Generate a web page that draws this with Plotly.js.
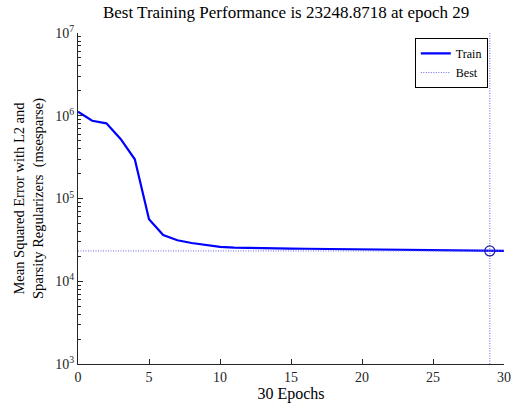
<!DOCTYPE html>
<html>
<head>
<meta charset="utf-8">
<script src="https://cdn.plot.ly/plotly-3.0.1.min.js"></script>
<style>html,body{margin:0;padding:0;background:#fff;}#chart{width:511px;height:405px;}</style>
</head>
<body>
<div id="chart"></div>
<script>
const epochs = [0,1,2,3,4,5,6,7,8,9,10,11,12,13,14,15,16,17,18,19,20,21,22,23,24,25,26,27,28,29,30];
const trainPerf = [1120000,870000,810000,524000,298000,56000,36200,31300,29000,27200,26000,25500,25200,25000,24900,24800,24700,24600,24500,24400,24300,24200,24050,23900,23800,23700,23600,23450,23350,23248.8718,23260];
const bestEpoch = 29;
const bestPerf = 23248.8718;
const xRange = [0, 30];
const yRange = [1e3, 1e7];
const xTicks = [0,5,10,15,20,25,30];
const yMajorTicks = [1e3,1e4,1e5,1e6,1e7];
const yMajorLabels = ['10<sup>3</sup>','10<sup>4</sup>','10<sup>5</sup>','10<sup>6</sup>','10<sup>7</sup>'];
const yMinorTicks = [2e3,3e3,4e3,5e3,6e3,7e3,8e3,9e3,2e4,3e4,4e4,5e4,6e4,7e4,8e4,9e4,2e5,3e5,4e5,5e5,6e5,7e5,8e5,9e5,2e6,3e6,4e6,5e6,6e6,7e6,8e6,9e6];

const serif = "Liberation Serif";

const traces = [
  {x: epochs, y: trainPerf, type: 'scatter', mode: 'lines', name: 'Train',
   line: {color: '#0000ff', width: 2.2}},
  {x: xRange, y: [bestPerf, bestPerf], type: 'scatter', mode: 'lines', name: 'Best',
   line: {color: '#6666ee', width: 1, dash: '1px,1.5px'}},
  {x: [bestEpoch, bestEpoch], y: yRange, type: 'scatter', mode: 'lines', name: 'Best',
   showlegend: false, line: {color: '#6666ee', width: 1, dash: '1px,1.5px'}},
  {x: [bestEpoch], y: [bestPerf], type: 'scatter', mode: 'markers', showlegend: false,
   marker: {symbol: 'circle-open', size: 10, color: '#1a1aaa', line: {width: 1.2, color: '#1a1aaa'}}},
  {x: epochs, y: trainPerf, yaxis: 'y2', type: 'scatter', mode: 'lines', showlegend: false,
   hoverinfo: 'skip', opacity: 0, line: {width: 0}}
];

const layout = {
  width: 511, height: 405,
  margin: {l: 78, r: 7, t: 33, b: 41},
  paper_bgcolor: '#fff', plot_bgcolor: '#fff',
  font: {family: serif, size: 12, color: '#262626'},
  title: {text: 'Best Training Performance is 23248.8718 at epoch 29',
          font: {family: serif, size: 17, color: '#000'}, x: 0.56, xanchor: 'center', y: 0.97, yanchor: 'middle'},
  showlegend: true,
  legend: {x: 0.962, xanchor: 'right', y: 0.985, yanchor: 'top',
           bgcolor: '#fff', bordercolor: '#000', borderwidth: 1,
           font: {family: serif, size: 12, color: '#000'},
           tracegroupgap: 0, itemwidth: 30},
  xaxis: {range: xRange, tickvals: xTicks, ticks: 'inside', ticklen: 5, tickcolor: '#262626',
          showline: true, linecolor: '#262626', linewidth: 1, showgrid: false, zeroline: false,
          ticklabeloverflow: 'allow',
          tickfont: {family: serif, size: 14, color: '#262626'},
          title: {text: '30 Epochs', font: {family: serif, size: 16, color: '#000'}, standoff: 4}},
  yaxis: {type: 'log', range: [3, 7], tickvals: yMajorTicks, ticktext: yMajorLabels, ticks: 'inside', ticklen: 5,
          tickcolor: '#262626', tickwidth: 1, showline: true, linecolor: '#262626', linewidth: 1,
          showgrid: false, zeroline: false,
          tickfont: {family: serif, size: 14, color: '#262626'},
          title: {text: 'Mean Squared Error with L2 and<br>Sparsity Regularizers  (msesparse)',
                  font: {family: serif, size: 14.5, color: '#000'}, standoff: 8}},
  yaxis2: {type: 'log', range: [3, 7], overlaying: 'y', anchor: 'x', side: 'left', tickvals: yMinorTicks,
           showticklabels: false, ticks: 'inside', ticklen: 3, tickwidth: 1, tickcolor: '#262626',
           showline: false, showgrid: false, zeroline: false}
};

Plotly.newPlot('chart', traces, layout, {displayModeBar: false, staticPlot: true});
</script>
</body>
</html>
